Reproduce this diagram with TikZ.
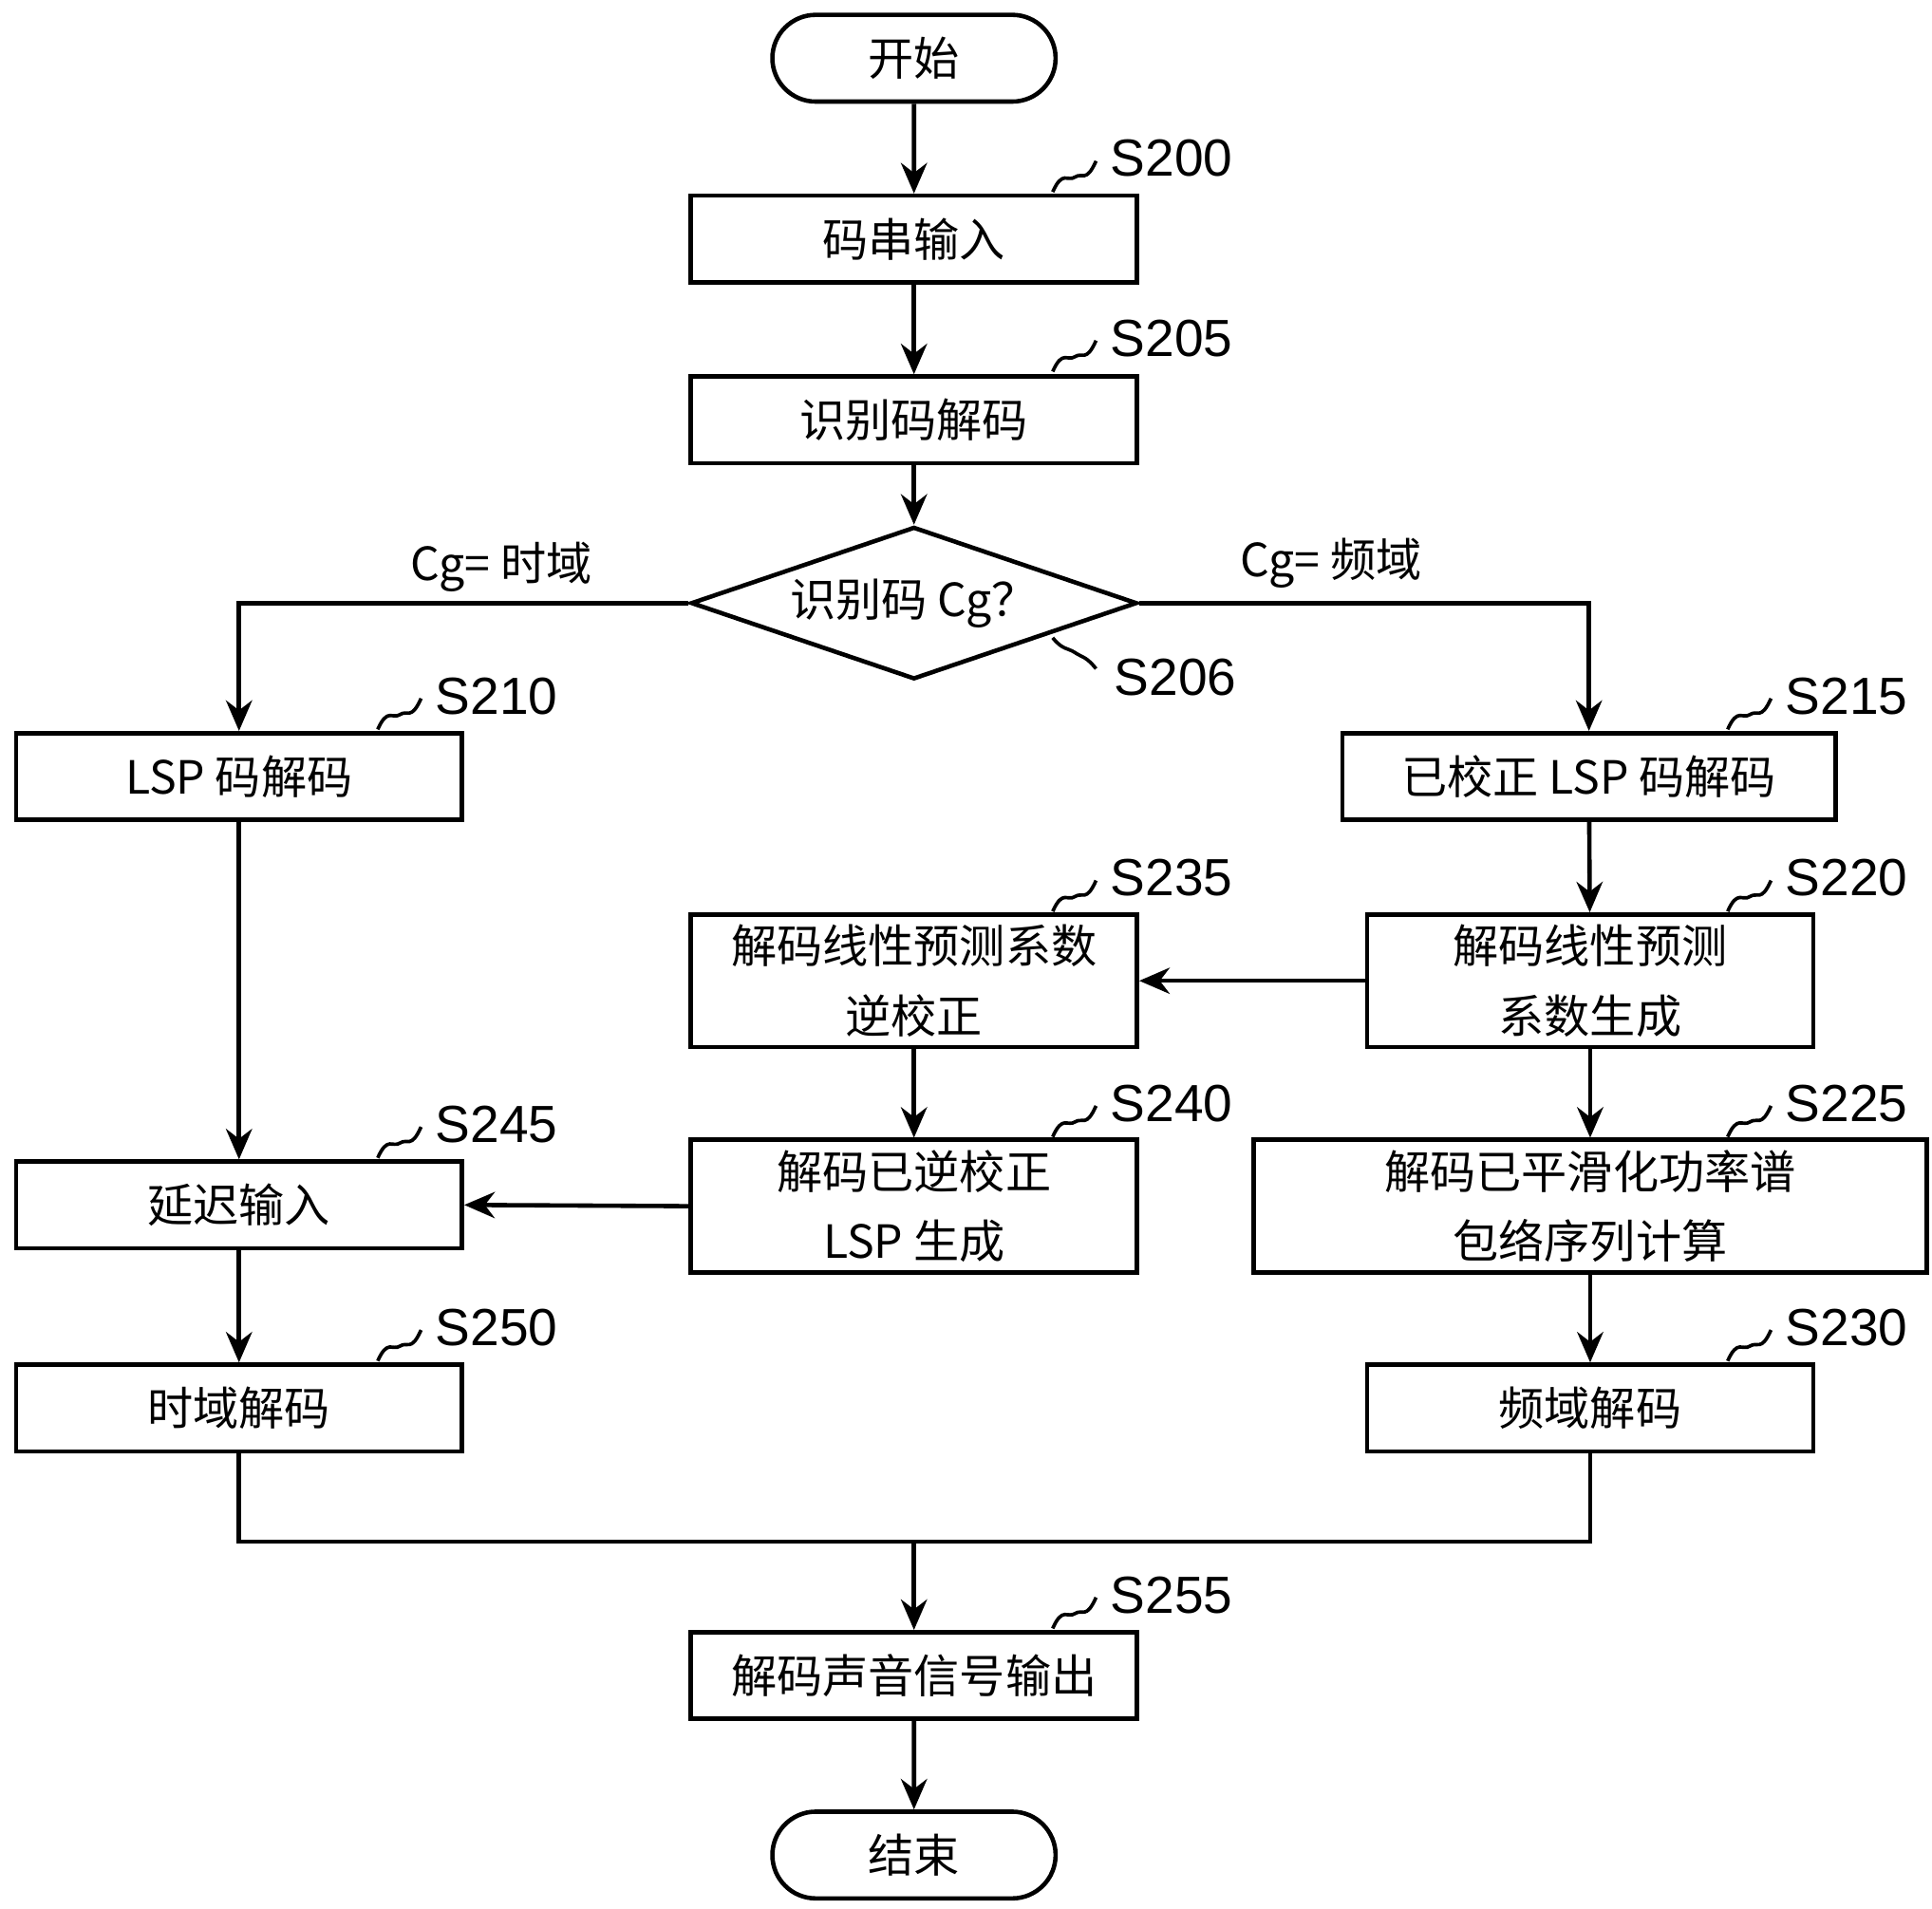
\documentclass[tikz,border=0pt]{standalone}
\usepackage{fontspec}
\setmainfont{Liberation Sans}
\newfontfamily\cjk{Noto Sans CJK SC}
\usetikzlibrary{shapes.geometric,shapes.misc,arrows.meta}
\begin{document}
\begin{tikzpicture}[x=0.01cm,y=-0.01cm,line width=1pt,
  box/.style={draw,rectangle,minimum width=3.6cm,minimum height=0.7cm,font=\cjk\fontsize{10.5}{16}\selectfont,align=center,inner sep=0pt},
  term/.style={draw,rounded rectangle,minimum width=2.52cm,minimum height=0.7cm,font=\cjk\fontsize{10.5}{14}\selectfont},
  arr/.style={-{Stealth[length=7pt,width=6pt]}},
  lab/.style={font=\fontsize{12}{14}\selectfont,anchor=west,inner sep=0pt},
  elab/.style={font=\cjk\fontsize{10.5}{14}\selectfont}]
\useasboundingbox (0,0) rectangle (1560,1541);
\newcommand{\sq}[3]{\draw[line width=0.8pt] (#1,#2) .. controls +(8,-18) and +(-6,4) .. +(18,-12) .. controls +(6,-4) and +(-8,18) .. +(35,-25); \node[lab] at (#1+45,#2-27) {#3};}
\node[term] (st) at (738,47) {开始};
\node[box] (s200) at (738,193) {码串输入};
\node[box] (s205) at (738,339) {识别码解码};
\node[draw,diamond,aspect=2.9,minimum width=3.6cm,minimum height=1.23cm,inner sep=0pt,font=\cjk\fontsize{10.5}{14}\selectfont] (s206) at (738,487) {识别码 Cg？};
\node[box] (s210) at (193,627) {LSP 码解码};
\node[box,minimum width=3.98cm] (s215) at (1283,627) {已校正 LSP 码解码};
\node[box,minimum height=1.07cm] (s235) at (738,792) {解码线性预测系数\\逆校正};
\node[box,minimum height=1.07cm] (s220) at (1284,792) {解码线性预测\\系数生成};
\node[box,minimum height=1.07cm] (s240) at (738,974) {解码已逆校正\\LSP 生成};
\node[box,minimum height=1.07cm,minimum width=5.43cm] (s225) at (1284,974) {解码已平滑化功率谱\\包络序列计算};
\node[box] (s245) at (193,973) {延迟输入};
\node[box] (s250) at (193,1137) {时域解码};
\node[box] (s230) at (1284,1137) {频域解码};
\node[box] (s255) at (738,1353) {解码声音信号输出};
\node[term] (en) at (738,1498) {结束};
\coordinate (jl) at (193,1245); \coordinate (jm) at (738,1245); \coordinate (jr) at (1284,1245);
\draw[arr] (st) -- (s200);
\draw[arr] (s200) -- (s205);
\draw[arr] (s205) -- (s206);
\draw[arr] (s206.west) -| (s210.north);
\draw[arr] (s206.east) -| (s215.north);
\draw[arr] (s215) -- (s220);
\draw[arr] (s220) -- (s235);
\draw[arr] (s220) -- (s225);
\draw[arr] (s225) -- (s230);
\draw[arr] (s235) -- (s240);
\draw[arr] (s240.west) -- (s245.east);
\draw[arr] (s210) -- (s245);
\draw[arr] (s245) -- (s250);
\draw (s250.south) -- (jl) -- (jr) -- (s230.south);
\draw[arr] (jm) -- (s255);
\draw[arr] (s255) -- (en);
\node[elab] at (405,458) {Cg= 时域};
\node[elab] at (1075,455) {Cg= 频域};
\sq{850}{155}{S200}
\sq{850}{300}{S205}
\sq{305}{589}{S210}
\sq{1395}{589}{S215}
\sq{850}{736}{S235}
\sq{1395}{736}{S220}
\sq{850}{918}{S240}
\sq{1395}{918}{S225}
\sq{305}{935}{S245}
\sq{305}{1099}{S250}
\sq{1395}{1099}{S230}
\sq{850}{1315}{S255}
\draw[line width=0.8pt] (850,515) .. controls +(8,10) and +(-6,-4) .. +(18,12) .. controls +(6,4) and +(-8,-10) .. +(35,25);
\node[lab] at (898,547) {S206};
\end{tikzpicture}
\end{document}
